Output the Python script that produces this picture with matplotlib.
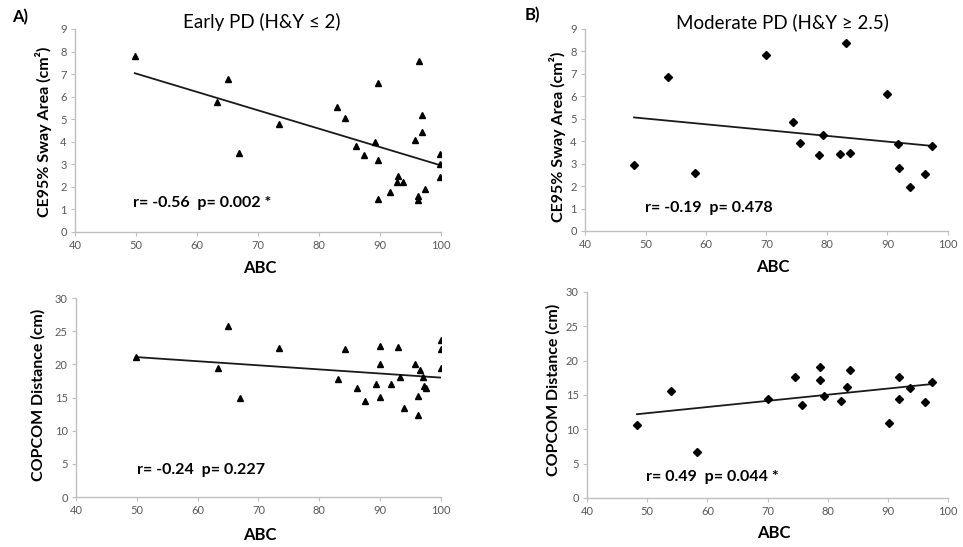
import matplotlib
matplotlib.use('Agg')
import matplotlib.pyplot as plt

plt.rcParams['font.family'] = ['Lato', 'DejaVu Sans']

# Early PD (H&Y <= 2)
early_abc = [49.8, 63.3, 65.0, 66.8, 73.4, 83.0, 84.3, 86.1, 87.3, 89.2, 89.7, 89.7, 89.7,
             91.7, 92.9, 92.7, 93.8, 95.7, 96.2, 96.2, 96.4, 96.9, 96.9, 97.3, 99.9, 99.9, 99.9]
early_sway = [7.82, 5.78, 6.77, 3.50, 4.79, 5.56, 5.07, 3.82, 3.42, 3.97, 6.61, 3.20, 1.47,
              1.77, 2.46, 2.20, 2.23, 4.09, 1.61, 1.43, 7.58, 5.19, 4.45, 1.89, 3.47, 3.01, 2.43]
early_abc2 = [49.8, 63.4, 65.0, 66.9, 73.4, 83.1, 84.3, 86.2, 87.5, 89.4, 89.9, 89.9, 89.9,
              91.8, 92.9, 93.2, 93.9, 95.8, 96.3, 96.3, 96.6, 97.0, 97.2, 97.6, 100.0, 100.0, 100.0]
early_copcom = [21.1, 19.4, 25.8, 14.9, 22.4, 17.8, 22.3, 16.5, 14.5, 17.1, 22.7, 20.1, 15.1,
                17.1, 22.6, 18.1, 13.4, 20.1, 15.2, 12.4, 19.1, 18.1, 16.8, 16.5, 23.6, 22.3, 19.4]

# Moderate PD (H&Y >= 2.5)
mod_abc = [48.1, 53.7, 58.1, 70.0, 74.4, 75.6, 78.7, 79.3, 82.1, 83.2, 83.8,
           89.9, 91.7, 91.9, 93.7, 96.2, 97.4]
mod_sway = [2.93, 6.85, 2.60, 7.86, 4.85, 3.93, 3.38, 4.27, 3.45, 8.38, 3.48,
            6.10, 3.88, 2.80, 1.96, 2.54, 3.79]
mod_abc2 = [48.3, 53.9, 58.3, 70.1, 74.5, 75.7, 78.7, 78.7, 79.3, 82.2, 83.2, 83.7,
            90.1, 91.9, 91.9, 93.6, 96.2, 97.4]
mod_copcom = [10.6, 15.6, 6.7, 14.4, 17.6, 13.6, 19.1, 17.2, 14.9, 14.1, 16.1, 18.7,
              10.9, 17.6, 14.4, 16.0, 14.0, 16.9]

# trend lines (end points)
fit_early_sway = ([49.8, 100.0], [7.04, 2.95])
fit_early_copcom = ([49.8, 100.0], [21.1, 18.0])
fit_mod_sway = ([48.1, 97.4], [5.06, 3.79])
fit_mod_copcom = ([48.3, 97.4], [12.2, 16.6])

stats = ['r= -0.56  p= 0.002 *', 'r= -0.24  p= 0.227',
         'r= -0.19  p= 0.478', 'r= 0.49  p= 0.044 *']

fig = plt.figure(figsize=(9.63, 5.47), dpi=100)

ax_a1 = fig.add_axes([0.0779, 0.5759, 0.3801, 0.3711])
ax_a2 = fig.add_axes([0.0789, 0.0914, 0.3790, 0.3638])
ax_b1 = fig.add_axes([0.6075, 0.5777, 0.3769, 0.3693])
ax_b2 = fig.add_axes([0.6096, 0.0896, 0.3749, 0.3766])

panels = [
    (ax_a1, early_abc, early_sway, fit_early_sway, '^', 5, stats[0], 9, 1,
     'CE95% Sway Area (cm\u00b2)', (0.158, 0.143), (0.505, -0.177), (-0.087, 0.493)),
    (ax_a2, early_abc2, early_copcom, fit_early_copcom, '^', 5, stats[1], 30, 5,
     'COPCOM Distance (cm)', (0.167, 0.136), (0.504, -0.191), (-0.104, 0.513)),
    (ax_b1, mod_abc, mod_sway, fit_mod_sway, 'D', 4.3, stats[2], 9, 1,
     'CE95% Sway Area (cm\u00b2)', (0.165, 0.114), (0.518, -0.178), (-0.077, 0.465)),
    (ax_b2, mod_abc2, mod_copcom, fit_mod_copcom, 'D', 4.3, stats[3], 30, 5,
     'COPCOM Distance (cm)', (0.163, 0.102), (0.518, -0.170), (-0.094, 0.524)),
]

for ax, xs, ys, fit, mk, ms, txt, ymax, ystep, ylab, txt_pos, xl_pos, yl_pos in panels:
    ax.plot(fit[0], fit[1], color='#1a1a1a', linewidth=1.3, zorder=2)
    ax.plot(xs, ys, linestyle='none', marker=mk, markersize=ms,
            color='black', zorder=3)
    ax.set_xlim(40, 100)
    ax.set_ylim(0, ymax)
    ax.set_xticks(range(40, 101, 10))
    ax.set_yticks(range(0, ymax + 1, ystep))
    for s in ['top', 'right']:
        ax.spines[s].set_visible(False)
    for s in ['left', 'bottom']:
        ax.spines[s].set_color('#bfbfbf')
        ax.spines[s].set_linewidth(1.0)
    ax.tick_params(direction='out', length=3, width=0.8, color='#bfbfbf',
                   labelsize=8, labelcolor='#595959', pad=3)
    ax.text(txt_pos[0], txt_pos[1], txt, transform=ax.transAxes,
            fontsize=11.5, fontweight='bold', va='center', ha='left')
    ax.set_xlabel('ABC', fontsize=12, fontweight='bold')
    ax.xaxis.set_label_coords(*xl_pos)
    ax.xaxis.label.set_va('center')
    ax.set_ylabel(ylab, fontsize=11.5, fontweight='bold')
    ax.yaxis.set_label_coords(*yl_pos)
    ax.yaxis.label.set_va('center')

ax_a1.text(0.511, 1.034, 'Early PD (H&Y \u2264 2)', transform=ax_a1.transAxes,
           fontsize=13.5, ha='center', va='center')
ax_b1.text(0.543, 1.035, 'Moderate PD (H&Y \u2265 2.5)', transform=ax_b1.transAxes,
           fontsize=13.5, ha='center', va='center')

fig.text(20 / 963, 1 - 17 / 547, 'A)', fontsize=12, fontweight='bold',
         ha='center', va='center')
fig.text(532 / 963, 1 - 15 / 547, 'B)', fontsize=12, fontweight='bold',
         ha='center', va='center')

fig.savefig('out.png', dpi=100)
